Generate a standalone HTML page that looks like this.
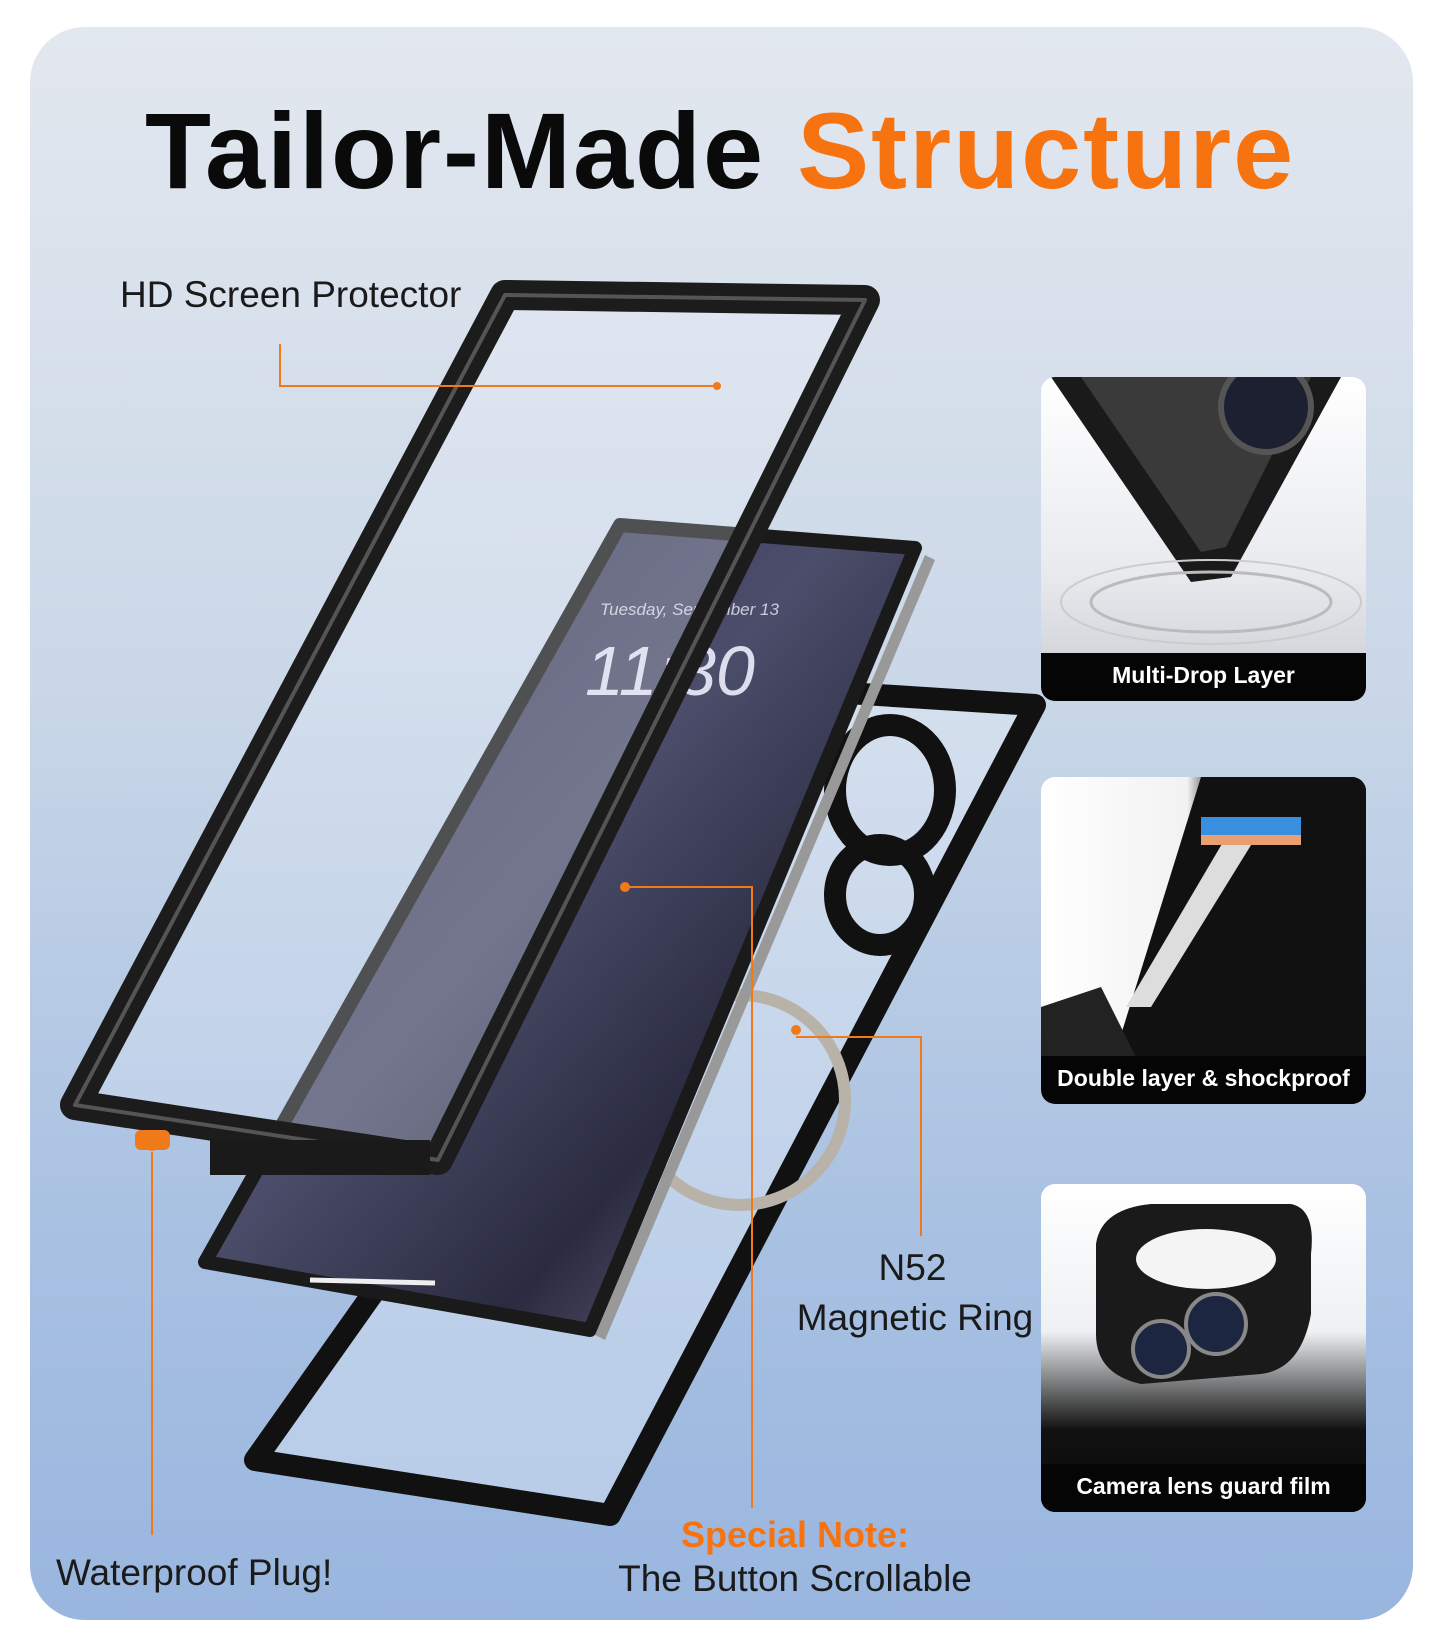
<!DOCTYPE html>
<html><head><meta charset="utf-8"><style>
html,body{margin:0;padding:0;background:#fff;width:1440px;height:1650px;overflow:hidden;font-family:"Liberation Sans",sans-serif}
.card{position:absolute;left:30px;top:27px;width:1383px;height:1593px;border-radius:55px;background:linear-gradient(180deg,#e3e8ef 0%,#cbd8e8 40%,#a9c1e2 75%,#99b6df 100%);overflow:hidden}
.t{position:absolute;white-space:nowrap}
.panel{position:absolute;left:1041px;width:325px;border-radius:14px;overflow:hidden;background:#fff}
.bar{position:absolute;left:0;right:0;bottom:0;height:48px;background:#050505;color:#fff;font-weight:bold;font-size:23px;text-align:center;line-height:44px}
</style></head><body>
<div class="card"></div>
<div class="t" style="left:145px;top:88px;font-size:108px;font-weight:bold;letter-spacing:2px;color:#0a0a0a">Tailor-Made <span style="color:#f7730f">Structure</span></div>
<div class="t" style="left:120px;top:274px;font-size:37px;color:#1a1a1a">HD Screen Protector</div>

<svg style="position:absolute;left:0;top:0" width="1440" height="1650">
<defs>
<linearGradient id="ph" x1="0" y1="0" x2="1" y2="1"><stop offset="0" stop-color="#2c2f4a"/><stop offset=".45" stop-color="#4b4d6a"/><stop offset=".7" stop-color="#2a2b40"/><stop offset="1" stop-color="#8a7a9c"/></linearGradient>
</defs>
<polygon points="800,690 1035,705 610,1515 255,1460" fill="rgba(235,240,248,0.35)" stroke="#111" stroke-width="22" stroke-linejoin="round"/>
<ellipse cx="890" cy="790" rx="55" ry="65" fill="none" stroke="#111" stroke-width="22"/>
<ellipse cx="880" cy="895" rx="45" ry="50" fill="none" stroke="#111" stroke-width="22"/>
<circle cx="740" cy="1100" r="105" fill="none" stroke="#b8b2a8" stroke-width="12"/>
<polygon points="620,525 915,548 590,1330 205,1262" fill="url(#ph)" stroke="#1a1a1a" stroke-width="14" stroke-linejoin="round"/>
<polygon points="925,555 935,560 605,1340 595,1335" fill="#999"/>
<line x1="310" y1="1280" x2="435" y2="1283" stroke="#eee" stroke-width="5"/>
<text x="600" y="615" fill="#ccd" font-size="17" font-style="italic" font-family="Liberation Sans">Tuesday, September 13</text>
<text x="585" y="695" fill="#dde" font-size="70" font-style="italic" font-family="Liberation Sans">11:30</text>
<polygon points="505,295 865,300 438,1160 75,1105" fill="rgba(240,245,252,0.25)" stroke="#1c1c1c" stroke-width="30" stroke-linejoin="round"/>
<polygon points="505,295 865,300 438,1160 75,1105" fill="none" stroke="#555" stroke-width="4" stroke-linejoin="round"/>
<rect x="210" y="1140" width="220" height="35" fill="#1a1a1a"/>
<rect x="135" y="1130" width="35" height="20" rx="6" fill="#f07a1a"/>
<g fill="none" stroke="#f07a1a" stroke-width="2">
<polyline points="280,344 280,386 717,386"/>
<polyline points="152,1152 152,1535"/>
<polyline points="625,887 752,887 752,1508"/>
<polyline points="796,1037 921,1037 921,1236"/>
</g>
<g fill="#f07a1a"><circle cx="717" cy="386" r="4"/><circle cx="152" cy="1146" r="5"/><circle cx="625" cy="887" r="5"/><circle cx="796" cy="1030" r="5"/></g>
</svg>

<div class="t" style="left:56px;top:1552px;font-size:37px;color:#1a1a1a">Waterproof Plug!</div>
<div class="t" style="left:610px;top:1514px;width:370px;text-align:center;font-size:36px;font-weight:bold;color:#f7730f">Special Note:</div>
<div class="t" style="left:590px;top:1558px;width:410px;text-align:center;font-size:37px;color:#1a1a1a">The Button Scrollable</div>
<div class="t" style="left:780px;top:1247px;width:265px;text-align:center;font-size:37px;color:#1a1a1a">N52</div>
<div class="t" style="left:780px;top:1297px;width:270px;text-align:center;font-size:37px;color:#1a1a1a">Magnetic Ring</div>

<div class="panel" style="top:377px;height:324px;background:linear-gradient(180deg,#fff 0%,#e8eaee 60%,#c9ccd2 100%)">
<svg width="325" height="280" style="position:absolute;left:0;top:0"><polygon points="10,0 300,0 190,200 150,205" fill="#1a1a1a"/><polygon points="40,0 270,0 185,170 160,175" fill="#3a3a3a"/><circle cx="225" cy="30" r="45" fill="#1c2030" stroke="#555" stroke-width="6"/><ellipse cx="170" cy="225" rx="120" ry="30" fill="none" stroke="#bbb" stroke-width="3"/><ellipse cx="170" cy="225" rx="150" ry="42" fill="none" stroke="#ccc" stroke-width="2"/></svg>
<div class="bar">Multi-Drop Layer</div></div>

<div class="panel" style="top:777px;height:327px;background:linear-gradient(90deg,#fff 0%,#f2f2f2 45%,#1a1a1a 55%,#111 100%)">
<svg width="325" height="290" style="position:absolute;left:0;top:0"><polygon points="160,0 325,0 325,290 70,290" fill="#111"/><polygon points="185,60 215,60 110,230 85,230" fill="#ddd"/><rect x="160" y="40" width="100" height="25" fill="#3a8ee0"/><rect x="160" y="58" width="100" height="10" fill="#e8a070"/><polygon points="0,230 60,210 100,290 0,290" fill="#222"/></svg>
<div class="bar">Double layer &amp; shockproof</div></div>

<div class="panel" style="top:1184px;height:328px;background:linear-gradient(180deg,#fff 0%,#eef0f3 45%,#111 75%,#0a0a0a 100%)">
<svg width="325" height="280" style="position:absolute;left:0;top:0"><path d="M55,60 Q60,25 110,20 L250,20 Q275,25 270,70 L270,130 Q260,185 220,190 L100,200 Q55,190 55,150 Z" fill="#1a1a1a"/><ellipse cx="165" cy="75" rx="70" ry="30" fill="#f4f4f4"/><circle cx="175" cy="140" r="30" fill="#1c2640" stroke="#888" stroke-width="4"/><circle cx="120" cy="165" r="28" fill="#1c2640" stroke="#888" stroke-width="4"/></svg>
<div class="bar">Camera lens guard film</div></div>
</body></html>
